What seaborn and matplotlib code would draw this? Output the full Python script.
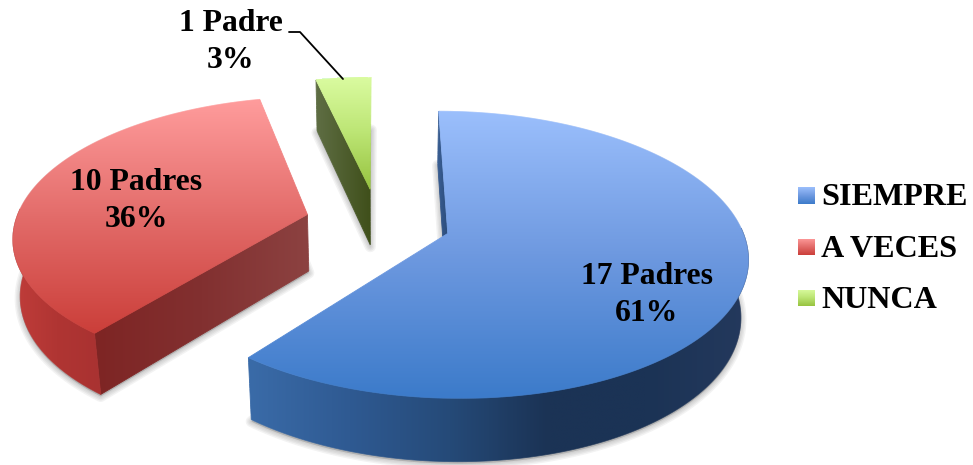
import matplotlib
matplotlib.use("Agg")
import matplotlib.pyplot as plt
import numpy as np
import seaborn as sns
from matplotlib.collections import LineCollection
from matplotlib.patches import Polygon

# datos
categorias = ["SIEMPRE", "A VECES", "NUNCA"]
padres = [17, 10, 1]
porcentajes = [61, 36, 3]
etiquetas = ["17 Padres\n61%", "10 Padres\n36%", "1 Padre\n3%"]

# colores: cara superior, pared exterior, pared interior
cara = [["#9BBFFC", "#6E99E0", "#3C7BCA"],
        ["#FF9C9C", "#E36C6A", "#CB3F3A"],
        ["#DAFBA0", "#BCE574", "#97C340"]]
pared_ext = [["#3A6BA8", "#2F5A92", "#254A78", "#1B3355", "#1B3355", "#24395D"],
             ["#C03D3A", "#B03533", "#A93231"],
             ["#5F6E44", "#3F4F1A"]]
pared_int = [["#3A5E92", "#2A4A78"],
             ["#7E2524", "#823030", "#8C4241"],
             ["#5F6E44", "#3F4F1A"]]

# proyeccion del circulo unidad a pixeles
CX, CY = 378, 222
A, B, D = 292, 137, 58
K, M = 0.147, 0.02


def proyectar(x, y, z=0):
    w = 1 + K * y + M * z
    return np.column_stack([CX + A * x / w, CY - B * y / w + D * z / w])


def degradado(ax, pts, colores, vertical=True, borde=True):
    # imagen con degradado recortada al poligono
    pal = np.array(sns.blend_palette(colores, n_colors=128))[:, :3]
    arr = pal[:, None, :] if vertical else pal[None, :, :]
    x0, y0 = pts.min(axis=0)
    x1, y1 = pts.max(axis=0)
    im = ax.imshow(arr, extent=(x0, x1, y1, y0), aspect="auto", interpolation="bilinear", zorder=3)
    im.set_clip_path(Polygon(pts, closed=True, transform=ax.transData))
    if not borde:
        return

    # borde fino para suavizar el recorte
    cerrado = np.vstack([pts, pts[:1]])
    denso = np.vstack([np.linspace(p, q, 12, endpoint=False) for p, q in zip(cerrado[:-1], cerrado[1:])])
    denso = np.vstack([denso, denso[:1]])
    eje = 1 if vertical else 0
    pos = (denso[:, eje] - denso[:, eje].min()) / (np.ptp(denso[:, eje]) + 1e-9)
    idx = (pos[:-1] * 127).astype(int)
    segs = np.stack([denso[:-1], denso[1:]], axis=1)
    ax.add_collection(LineCollection(segs, colors=pal[idx], linewidths=0.6, zorder=3), autolim=False)


sns.set_style("white")
plt.rcParams["font.family"] = ["Liberation Serif", "DejaVu Serif"]

fig = plt.figure(figsize=(9.73, 4.65), dpi=100)
ax = fig.add_axes([0, 0, 1, 1])

# la tarta da los angulos y el desplazamiento de cada porcion
wedges, _ = ax.pie(padres, startangle=90, counterclock=False, explode=[0.25, 0.25, 0.25], radius=1)
for w in wedges:
    w.set_visible(False)

for i, w in enumerate(wedges):
    cx, cy = w.center
    t = np.radians(np.linspace(w.theta1, w.theta2, 240))
    ax_x = cx + w.r * np.cos(t)
    ax_y = cy + w.r * np.sin(t)

    # sombra difusa bajo la porcion
    suelo = proyectar(np.r_[cx, ax_x], np.r_[cy, ax_y], 1)
    for lw in [8, 6, 4, 2]:
        ax.add_patch(Polygon(suelo + [0, 2], closed=True, facecolor="#555555", edgecolor="#555555",
                             linewidth=lw, alpha=0.07, zorder=1, joinstyle="round"))

    # pared recta: la del borde theta2 es la que se ve en las tres porciones
    bx = np.array([cx, ax_x[-1]])
    by = np.array([cy, ax_y[-1]])
    quad = np.vstack([proyectar(bx, by, 0), proyectar(bx[::-1], by[::-1], 1)])
    degradado(ax, quad, pared_int[i], vertical=False)

    # pared exterior, solo el tramo de delante
    frente = np.sin(t) < 0.05
    if frente.sum() > 1:
        fx, fy = ax_x[frente], ax_y[frente]
        pared = np.vstack([proyectar(fx, fy, 0), proyectar(fx[::-1], fy[::-1], 1)])
        degradado(ax, pared, pared_ext[i], vertical=False)

    # cara superior
    arriba = proyectar(np.r_[cx, ax_x], np.r_[cy, ax_y], 0)
    degradado(ax, arriba, cara[i], vertical=True)

# etiquetas
pos_etiquetas = [(647, 295), (136, 201), (231, 42)]
for (x, y), txt in zip(pos_etiquetas, etiquetas):
    ax.text(x, y, txt, ha="center", va="center", fontsize=22.8, fontweight="bold",
            color="black", linespacing=1.36, zorder=6)

# linea guia de la porcion pequena
ax.plot([289, 300, 343], [32, 32, 79], color="black", linewidth=1.3, zorder=6)

# leyenda
for i, (nombre, y) in enumerate(zip(categorias, [195.5, 247, 298])):
    cuadro = np.array([[798, y - 8.5], [815, y - 8.5], [815, y + 8.5], [798, y + 8.5]])
    degradado(ax, cuadro, cara[i], vertical=True, borde=False)
    ax.text(821, y + 2, nombre, ha="left", va="center", fontsize=23.1, fontweight="bold", color="black", zorder=6)

ax.set_aspect("auto")
ax.set_xlim(0, 973)
ax.set_ylim(465, 0)
ax.axis("off")

fig.savefig("out.png", dpi=100)
